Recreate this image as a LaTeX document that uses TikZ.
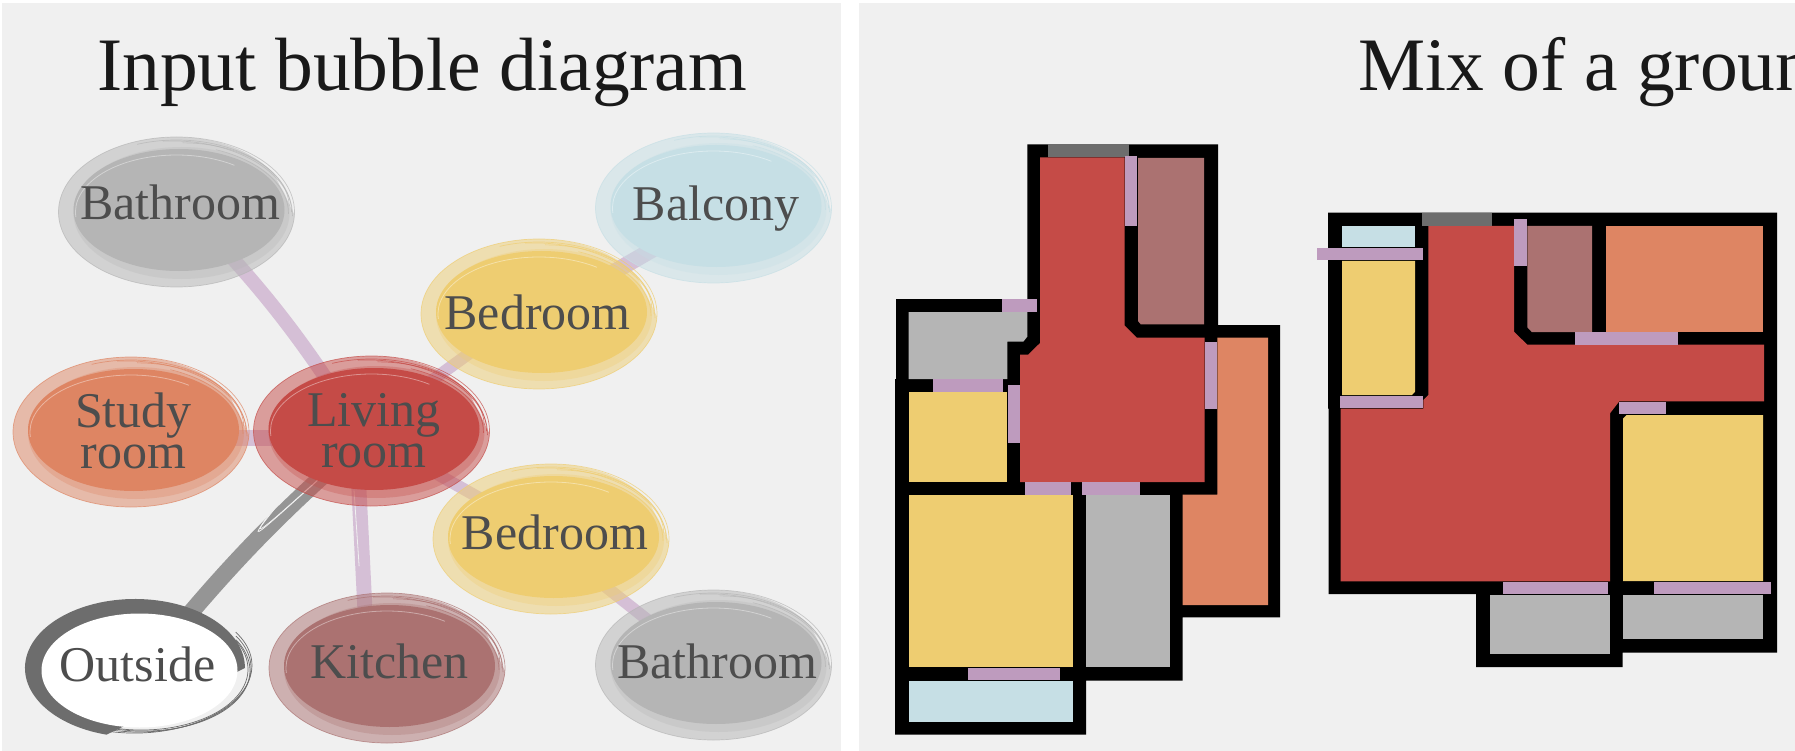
\documentclass[tikz,border=0pt]{standalone}
\usepackage{fontspec}
\setmainfont{Liberation Serif}
\usetikzlibrary{shapes}
\pgfdeclarelayer{panellayer}
\pgfdeclarelayer{edgelayer}
\pgfdeclarelayer{nodelayer}
\pgfsetlayers{panellayer,edgelayer,nodelayer,main}
\definecolor{panelgray}{HTML}{F0F0F0}
\definecolor{textgray}{HTML}{4D4D4D}
\definecolor{livingred}{HTML}{C54B47}
\definecolor{kitchenrose}{HTML}{AB7271}
\definecolor{studyorange}{HTML}{DE8563}
\definecolor{bedyellow}{HTML}{EECD71}
\definecolor{bathgray}{HTML}{B5B5B5}
\definecolor{balconyblue}{HTML}{C6DFE5}
\definecolor{doormauve}{HTML}{BE9BBE}
\definecolor{entrygray}{HTML}{6D6D6D}
\definecolor{linkmauve}{HTML}{D5BFD6}
\definecolor{linkgray}{HTML}{959595}
\tikzstyle{bubbletext}=[ellipse,inner sep=0pt,minimum width=190pt,minimum height=110pt,align=center,text=textgray,font=\fontsize{50}{41}\selectfont]
\tikzstyle{title}=[anchor=base west,inner sep=0pt,text=black!90,font=\fontsize{75.5}{75}\selectfont]
\tikzstyle{brush}=[opacity=.5]
\tikzstyle{sketch}=[line width=.7pt,opacity=.7]
\tikzstyle{link}=[line width=14pt,linkmauve]
\tikzstyle{linkout}=[line width=17pt,linkgray]
\tikzstyle{linkgap}=[line width=.8pt,panelgray]
\tikzstyle{wall}=[fill=black]
\tikzstyle{door}=[fill=doormauve]
\tikzstyle{entry}=[fill=entrygray]
% name, centre x, centre y, colour, text, text x, text y
\newcommand{\bubble}[7]{
	\begin{scope}[shift={(#2,#3)}]
		\fill[brush,#4] (2:118 and 75) arc[start angle=2,end angle=270,x radius=118,y radius=75] arc[start angle=270,end angle=330,x radius=113,y radius=75] -- cycle;
		\fill[#4,opacity=.3] (5,1) ellipse [x radius=108,y radius=66];
		\fill[#4] (2.5,-2) ellipse [x radius=105.5,y radius=61];
		\draw[white,line width=.8pt,opacity=.4] (175:101 and 57) arc[start angle=175,end angle=305,x radius=101,y radius=57];
		\draw[sketch,#4] (0,0) ellipse [x radius=118,y radius=75];
		\foreach \tilt/\wid/\hei/\from in {0/115/72/250,-2/116/71/262,3/113/69/275,-1/112/67/290}
			\draw[sketch,#4,rotate=\tilt] (\from:{\wid} and {\hei}) arc[start angle=\from,end angle=360,x radius=\wid,y radius=\hei];
	\end{scope}
	\node[bubbletext] (#1) at (#6,#7) {#5};
}

\begin{document}
\begin{tikzpicture}[x=1pt,y=-1pt]
	\useasboundingbox (0,0) rectangle (1795,751);
	\clip (0,0) rectangle (1795,751);
	\begin{pgfonlayer}{panellayer}
		\fill[white] (0,0) rectangle (1795,751);
		\fill[panelgray] (2,3) rectangle (841,751);
		\fill[panelgray] (859,3) rectangle (1795,751);
	\end{pgfonlayer}
	\begin{pgfonlayer}{nodelayer}
		\bubble{bath1}{176.5}{212}{bathgray}{Bathroom}{180}{202.5}
		\bubble{balcony}{713.5}{208}{balconyblue}{Balcony}{716}{209}
		\bubble{bed1}{539}{314}{bedyellow}{Bedroom}{537.5}{312}
		\bubble{study}{131}{432}{studyorange}{Study\\room}{133.5}{430.5}
		\bubble{living}{371.5}{431}{livingred}{Living\\room}{374}{430.5}
		\bubble{bed2}{551}{539}{bedyellow}{Bedroom}{555}{532.5}
		\bubble{kitchen}{387}{668}{kitchenrose}{Kitchen}{389.5}{661}
		\bubble{bath2}{713.5}{665}{bathgray}{Bathroom}{717}{661}
		% outside has a solid ring
		\fill[entrygray] (135,668) ++(105:110 and 69) arc[start angle=105,end angle=360,x radius=110,y radius=69] -- cycle;
		\fill[white] (139.5,670.5) ellipse [x radius=98,y radius=57];
		\foreach \tilt/\wid/\hei in {0/112/64,-2/111/63,2/113/65,-1/109/62}
			\draw[line width=.7pt,entrygray,rotate around={\tilt:(139,668)}] (139,668) ++(-30:{\wid} and {\hei}) arc[start angle=-30,end angle=112,x radius=\wid,y radius=\hei];
		\node[bubbletext] (outside) at (137.5,664.7) {Outside};
	\end{pgfonlayer}
	\begin{pgfonlayer}{edgelayer}
		\draw[link] (bath1.center) to[bend left=6] ([xshift=-14pt]living.center);
		\draw[link,line width=16pt] ([yshift=-7pt]study.center) to ([yshift=-7pt]living.center);
		\draw[link,line width=12pt] ([yshift=8pt]living.center) to ([yshift=8pt]bed1.center);
		\draw[link,line width=12pt] ([yshift=-8pt]living.center) to ([yshift=-8pt]bed2.center);
		\draw[link,line width=16pt] ([yshift=-4pt]bed1.center) to ([yshift=-4pt]balcony.center);
		\draw[link,line width=12pt] ([yshift=-14pt]bed2.center) to ([yshift=-14pt]bath2.center);
		\draw[link,line width=15pt] ([xshift=-18pt]living.center) to ([xshift=-22pt]kitchen.center);
		\draw[linkout] ([xshift=10pt]outside.center) to[bend left=5] (living.center);
		\draw[linkgap,shorten <=195pt] ([xshift=14pt,yshift=4pt]outside.center) to[bend left=5] (living.center);
		\draw[linkgap,shorten <=225pt] ([xshift=7pt,yshift=-3pt]outside.center) to[bend left=5] (living.center);
		\draw[linkgap,shorten >=95pt,shorten <=60pt] ([xshift=-24pt]living.center) to ([xshift=-24pt]kitchen.center);
	\end{pgfonlayer}

	\node[title] (inputtitle) at (97,90.6) {Input bubble diagram};
	\node[title] (mixtitle) at (1358,90.6) {Mix of a groun};

	% first plan
	\fill[wall] (1027.3,144.4) -- (1218,144.4) -- (1218,325) -- (1280,325) -- (1280,617.4) -- (1182.7,617.4) -- (1182.7,680.6) -- (1086,680.6) -- (1086,734.5) -- (895,734.5) -- (895,379) -- (896,379) -- (896,299) -- (1027.3,299) -- cycle;
	\fill[livingred] (1040,157.3) -- (1124.7,157.3) -- (1124.7,325.5) -- (1136.7,337.5) -- (1204.7,337.5) -- (1204.7,482) -- (1020,482) -- (1020,354.6) -- (1028.3,354.6) -- (1040,343) -- cycle;
	\fill[kitchenrose] (1138,158) -- (1204,158) -- (1204,324.3) -- (1140.7,324.3) -- (1138,321) -- cycle;
	\fill[studyorange] (1217.3,337.5) -- (1268,337.5) -- (1268,605) -- (1182.7,605) -- (1182.7,494.5) -- (1217.3,494.5) -- cycle;
	\fill[bathgray] (908.7,312.2) -- (1027.3,312.2) -- (1027.3,336.7) -- (1023.3,341.7) -- (1007.3,341.7) -- (1007.3,379) -- (908.7,379) -- cycle;
	\fill[bedyellow] (909,392) rectangle (1007,482);
	\fill[bedyellow] (909,494.5) rectangle (1073,667.3);
	\fill[bathgray] (1086,494.5) rectangle (1170,667.3);
	\fill[balconyblue] (909,680.6) rectangle (1073,722);
	\fill[entry] (1048,144.4) rectangle (1129,157.3);
	\fill[door] (1124.7,156) rectangle (1137,225.8);
	\fill[door] (1002,299) rectangle (1037,312.2);
	\fill[door] (933,379) rectangle (1003.3,392);
	\fill[door] (1008,385) rectangle (1020,443);
	\fill[door] (1205,342) rectangle (1217.3,409);
	\fill[door] (1025,482) rectangle (1071,494.5);
	\fill[door] (1082,482) rectangle (1140,494.5);
	\fill[door] (968,667.7) rectangle (1060,680);

	% second plan
	\fill[wall] (1328,212.7) -- (1777,212.7) -- (1777,652.7) -- (1622.7,652.7) -- (1622.7,667) -- (1476,667) -- (1476,594) -- (1328.7,594) -- (1328.7,408.7) -- (1328,408.7) -- cycle;
	\fill[livingred] (1428.3,226) -- (1514,226) -- (1514,331.7) -- (1527.3,344.7) -- (1764,344.7) -- (1764,401.3) -- (1619.3,401.3) -- (1610,413.3) -- (1610,581.3) -- (1340.7,581.3) -- (1340.7,408.7) -- (1423.3,408.7) -- (1423.3,400) -- (1428.3,395) -- cycle;
	\fill[balconyblue] (1342,226) rectangle (1415,247);
	\fill[bedyellow] (1342,261) -- (1415,261) -- (1415,391.7) -- (1412,395) -- (1342,395) -- cycle;
	\fill[kitchenrose] (1527.3,226) -- (1592,226) -- (1592,332) -- (1531.7,332) -- (1527.3,327.3) -- cycle;
	\fill[studyorange] (1606,226) rectangle (1763,332);
	\fill[bedyellow] (1626.7,415) -- (1763,415) -- (1763,581) -- (1623,581) -- (1623,418.7) -- cycle;
	\fill[bathgray] (1490,595) rectangle (1610,653.7);
	\fill[bathgray] (1623,595) rectangle (1763,639);
	\fill[entry] (1422,213) rectangle (1492,226);
	\fill[door] (1317,248) rectangle (1423,260);
	\fill[door] (1514,219) rectangle (1527,266);
	\fill[door] (1575,332) rectangle (1678.3,344.7);
	\fill[door] (1340,396) rectangle (1423,408);
	\fill[door] (1619.3,402.3) rectangle (1666,414.3);
	\fill[door] (1503,582) rectangle (1608,594);
	\fill[door] (1654,582) rectangle (1771,594);
\end{tikzpicture}
\end{document}
